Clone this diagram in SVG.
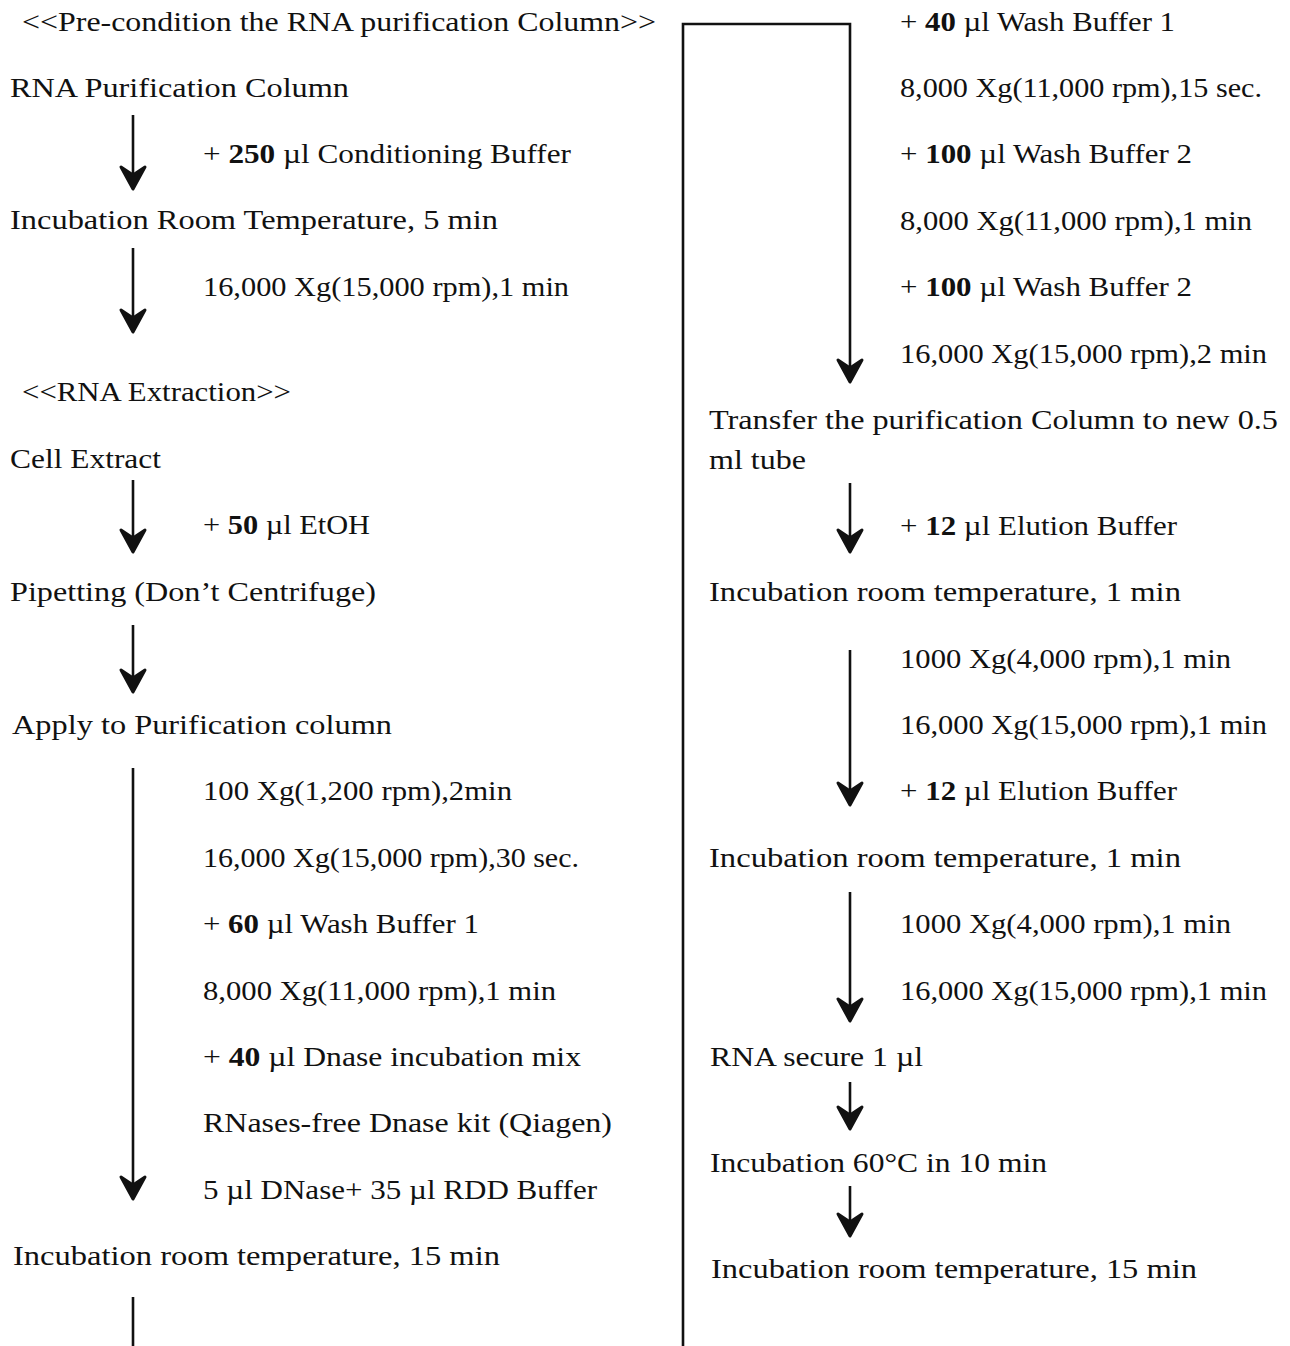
<svg xmlns="http://www.w3.org/2000/svg" width="1290" height="1346" viewBox="0 0 1290 1346">
<style>
text{font-family:"Liberation Serif","Times New Roman",serif;font-size:28px;fill:#111}
.b{font-weight:bold}
.c{fill:none;stroke:#111;stroke-width:2.6}
</style>
<defs>
<marker id="ah" viewBox="-2 -2 28 30" refX="14" refY="13" markerWidth="28" markerHeight="30" markerUnits="userSpaceOnUse" orient="auto">
<path d="M1,1 L23,13 L1,25 L9,13 Z" fill="#111" stroke="#111" stroke-width="3" stroke-linejoin="round"/>
</marker>
</defs>
<rect width="1290" height="1346" fill="#fff"/>
<g id="connectors">
<line class="c" x1="133" y1="115" x2="133" y2="180" marker-end="url(#ah)"/>
<line class="c" x1="133" y1="248" x2="133" y2="323" marker-end="url(#ah)"/>
<line class="c" x1="133" y1="480" x2="133" y2="543" marker-end="url(#ah)"/>
<line class="c" x1="133" y1="625" x2="133" y2="683" marker-end="url(#ah)"/>
<line class="c" x1="133" y1="768" x2="133" y2="1190" marker-end="url(#ah)"/>
<line class="c" x1="133" y1="1297" x2="133" y2="1346"/>
<path class="c" d="M683,1346 V24 H850 V373" marker-end="url(#ah)"/>
<line class="c" x1="850" y1="483" x2="850" y2="543" marker-end="url(#ah)"/>
<line class="c" x1="850" y1="650" x2="850" y2="796" marker-end="url(#ah)"/>
<line class="c" x1="850" y1="892" x2="850" y2="1012" marker-end="url(#ah)"/>
<line class="c" x1="850" y1="1082" x2="850" y2="1120" marker-end="url(#ah)"/>
<line class="c" x1="850" y1="1186" x2="850" y2="1227" marker-end="url(#ah)"/>
</g>
<g id="n1"><text x="22" y="31" textLength="634" lengthAdjust="spacingAndGlyphs">&lt;&lt;Pre-condition the RNA purification Column&gt;&gt;</text></g>
<g id="n2"><text x="10" y="97" textLength="339" lengthAdjust="spacingAndGlyphs">RNA Purification Column</text></g>
<g id="n3"><text x="203" y="163" textLength="368" lengthAdjust="spacingAndGlyphs">+ <tspan class="b">250</tspan> µl Conditioning Buffer</text></g>
<g id="n4"><text x="10" y="229" textLength="488" lengthAdjust="spacingAndGlyphs">Incubation Room Temperature, 5 min</text></g>
<g id="n5"><text x="203" y="296" textLength="366" lengthAdjust="spacingAndGlyphs">16,000 Xg(15,000 rpm),1 min</text></g>
<g id="n6"><text x="22" y="401" textLength="269" lengthAdjust="spacingAndGlyphs">&lt;&lt;RNA Extraction&gt;&gt;</text></g>
<g id="n7"><text x="10" y="468" textLength="151" lengthAdjust="spacingAndGlyphs">Cell Extract</text></g>
<g id="n8"><text x="203" y="534" textLength="167" lengthAdjust="spacingAndGlyphs">+ <tspan class="b">50</tspan> µl EtOH</text></g>
<g id="n9"><text x="10" y="601" textLength="366" lengthAdjust="spacingAndGlyphs">Pipetting (Don’t Centrifuge)</text></g>
<g id="n10"><text x="12" y="734" textLength="380" lengthAdjust="spacingAndGlyphs">Apply to Purification column</text></g>
<g id="n11"><text x="203" y="800" textLength="309" lengthAdjust="spacingAndGlyphs">100 Xg(1,200 rpm),2min</text></g>
<g id="n12"><text x="203" y="867" textLength="376" lengthAdjust="spacingAndGlyphs">16,000 Xg(15,000 rpm),30 sec.</text></g>
<g id="n13"><text x="203" y="933" textLength="276" lengthAdjust="spacingAndGlyphs">+ <tspan class="b">60</tspan> µl Wash Buffer 1</text></g>
<g id="n14"><text x="203" y="1000" textLength="353" lengthAdjust="spacingAndGlyphs">8,000 Xg(11,000 rpm),1 min</text></g>
<g id="n15"><text x="203" y="1066" textLength="378" lengthAdjust="spacingAndGlyphs">+ <tspan class="b">40</tspan> µl Dnase incubation mix</text></g>
<g id="n16"><text x="203" y="1132" textLength="409" lengthAdjust="spacingAndGlyphs">RNases-free Dnase kit (Qiagen)</text></g>
<g id="n17"><text x="203" y="1199" textLength="394" lengthAdjust="spacingAndGlyphs">5 µl DNase+ 35 µl RDD Buffer</text></g>
<g id="n18"><text x="13" y="1265" textLength="487" lengthAdjust="spacingAndGlyphs">Incubation room temperature, 15 min</text></g>
<g id="n19"><text x="900" y="31" textLength="275" lengthAdjust="spacingAndGlyphs">+ <tspan class="b">40</tspan> µl Wash Buffer 1</text></g>
<g id="n20"><text x="900" y="97" textLength="362" lengthAdjust="spacingAndGlyphs">8,000 Xg(11,000 rpm),15 sec.</text></g>
<g id="n21"><text x="900" y="163" textLength="292" lengthAdjust="spacingAndGlyphs">+ <tspan class="b">100</tspan> µl Wash Buffer 2</text></g>
<g id="n22"><text x="900" y="230" textLength="352" lengthAdjust="spacingAndGlyphs">8,000 Xg(11,000 rpm),1 min</text></g>
<g id="n23"><text x="900" y="296" textLength="292" lengthAdjust="spacingAndGlyphs">+ <tspan class="b">100</tspan> µl Wash Buffer 2</text></g>
<g id="n24"><text x="900" y="363" textLength="367" lengthAdjust="spacingAndGlyphs">16,000 Xg(15,000 rpm),2 min</text></g>
<g id="n25"><text x="709" y="429" textLength="569" lengthAdjust="spacingAndGlyphs">Transfer the purification Column to new 0.5</text><text x="709" y="469" textLength="97" lengthAdjust="spacingAndGlyphs">ml tube</text></g>
<g id="n26"><text x="900" y="535" textLength="277" lengthAdjust="spacingAndGlyphs">+ <tspan class="b">12</tspan> µl Elution Buffer</text></g>
<g id="n27"><text x="709" y="601" textLength="472" lengthAdjust="spacingAndGlyphs">Incubation room temperature, 1 min</text></g>
<g id="n28"><text x="900" y="668" textLength="331" lengthAdjust="spacingAndGlyphs">1000 Xg(4,000 rpm),1 min</text></g>
<g id="n29"><text x="900" y="734" textLength="367" lengthAdjust="spacingAndGlyphs">16,000 Xg(15,000 rpm),1 min</text></g>
<g id="n30"><text x="900" y="800" textLength="277" lengthAdjust="spacingAndGlyphs">+ <tspan class="b">12</tspan> µl Elution Buffer</text></g>
<g id="n31"><text x="709" y="867" textLength="472" lengthAdjust="spacingAndGlyphs">Incubation room temperature, 1 min</text></g>
<g id="n32"><text x="900" y="933" textLength="331" lengthAdjust="spacingAndGlyphs">1000 Xg(4,000 rpm),1 min</text></g>
<g id="n33"><text x="900" y="1000" textLength="367" lengthAdjust="spacingAndGlyphs">16,000 Xg(15,000 rpm),1 min</text></g>
<g id="n34"><text x="710" y="1066" textLength="213" lengthAdjust="spacingAndGlyphs">RNA secure 1 µl</text></g>
<g id="n35"><text x="710" y="1172" textLength="337" lengthAdjust="spacingAndGlyphs">Incubation 60°C in 10 min</text></g>
<g id="n36"><text x="711" y="1278" textLength="486" lengthAdjust="spacingAndGlyphs">Incubation room temperature, 15 min</text></g>
</svg>
